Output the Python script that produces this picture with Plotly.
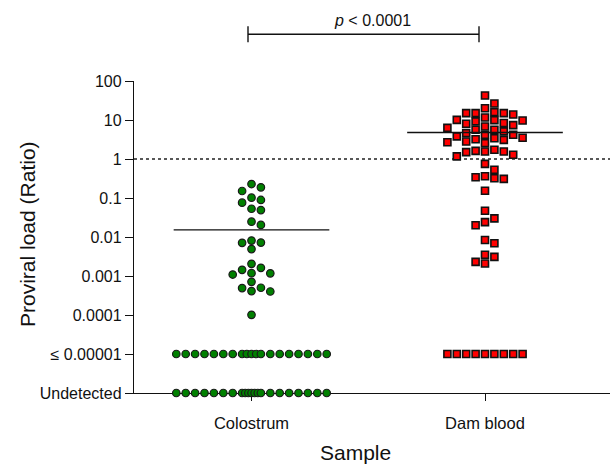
import numpy as np
import plotly.graph_objects as go

# ---------------- data ----------------
categories = ["Colostrum", "Dam blood"]

colostrum_detected = [0.228, 0.188, 0.151, 0.102, 0.089, 0.076, 0.053, 0.049,
                      0.0247, 0.0204, 0.0081, 0.0072, 0.0071, 0.0049,
                      0.00205, 0.00162, 0.00144, 0.00118, 0.00117, 0.00109,
                      0.00071, 0.00050, 0.00049, 0.00040, 0.00041, 0.000101]
colostrum_le_limit_n = 19
colostrum_undetected_n = 21

dam_detected = [42.4, 26.5, 20.1, 15.9, 15.0, 15.0, 15.0, 13.8, 11.6, 10.1, 9.9, 9.7,
                9.2, 8.4, 8.0, 7.4, 6.8, 6.3, 5.6, 5.6, 5.1, 4.6, 4.2, 4.2, 3.8,
                3.5, 3.4, 3.2, 3.1, 2.8, 2.7, 2.55, 1.72, 1.62, 1.56, 1.56, 1.50,
                1.28, 1.17, 0.75, 0.53, 0.36, 0.34, 0.32, 0.31,
                0.154, 0.047, 0.030, 0.024, 0.020, 0.0084, 0.0069, 0.0035, 0.0031,
                0.0023, 0.0021]
dam_le_limit_n = 9
dam_undetected_n = 0

le_limit_value = 1e-5
undetected_value = 1e-6
center_lines = [0.0152, 4.8]
threshold = 1.0

y_tickvals = [100, 10, 1, 0.1, 0.01, 0.001, 0.0001, 1e-5, 1e-6]
y_ticktext = ["100", "10", "1", "0.1", "0.01", "0.001", "0.0001", "\u2264 0.00001", "Undetected"]

# ---------------- layout geometry ----------------
W, H = 610, 464
ML, MR, MT, MB = 134, 0, 81, 71
plot_w = W - ML - MR
plot_h = H - MT - MB
y_range_log = [-6, 2]
px_per_decade = plot_h / (y_range_log[1] - y_range_log[0])
px_per_unit = 233.5
x_left = 1 - 117.5 / px_per_unit
x_right = x_left + plot_w / px_per_unit
slot_px = 9.4
slot = slot_px / px_per_unit
diam_px = 8.0


def swarm_offsets(vals):
    """slot-based beeswarm in pixel space"""
    vals = np.asarray(vals, dtype=float)
    ypx = np.log10(vals) * px_per_decade
    order = np.argsort(-vals, kind="stable")
    placed = {}
    out = np.zeros(len(vals))
    cands = [0]
    for k in range(1, 12):
        cands += [k, -k]
    for i in order:
        for k in cands:
            if all(abs(ypx[i] - yy) >= diam_px for yy in placed.get(k, [])):
                placed.setdefault(k, []).append(ypx[i])
                out[i] = k * slot
                break
    return out


def row_offsets(n, max_side=8):
    if n == 0:
        return np.array([])
    if n <= 2 * max_side + 1:
        return (np.arange(n) - (n - 1) / 2) * slot
    outer = max_side - 1
    c = n - 2 * outer
    left = -np.arange(max_side, 1, -1) * slot
    right = np.arange(2, max_side + 1) * slot
    mid = np.linspace(-slot, slot, c)
    return np.concatenate([left, mid, right])


def column(center, detected, n_le, n_und):
    xs = list(center + swarm_offsets(detected))
    ys = list(detected)
    xs += list(center + row_offsets(n_le))
    ys += [le_limit_value] * n_le
    xs += list(center + row_offsets(n_und))
    ys += [undetected_value] * n_und
    return xs, ys


cx, cy = column(1, colostrum_detected, colostrum_le_limit_n, colostrum_undetected_n)
dx, dy = column(2, dam_detected, dam_le_limit_n, dam_undetected_n)

fig = go.Figure()
fig.add_trace(go.Scatter(
    x=[x_left, x_right], y=[threshold, threshold], mode="lines",
    line=dict(color="#222", width=1.3, dash="dot"), hoverinfo="skip", cliponaxis=False))
fig.add_trace(go.Scatter(
    x=cx, y=cy, mode="markers", cliponaxis=False,
    marker=dict(symbol="circle", size=7.5, color="#008000",
                line=dict(color="#1a1a1a", width=1.2))))
fig.add_trace(go.Scatter(
    x=dx, y=dy, mode="markers", cliponaxis=False,
    marker=dict(symbol="square", size=7, color="#ff0000",
                line=dict(color="#111", width=1.6))))
for i, m in enumerate(center_lines):
    c = i + 1
    fig.add_trace(go.Scatter(
        x=[c - 1 / 3, c + 1 / 3], y=[m, m], mode="lines",
        line=dict(color="#111", width=1.4), hoverinfo="skip", cliponaxis=False))

font_family = "Arial, Liberation Sans, sans-serif"

fig.update_layout(
    width=W, height=H,
    margin=dict(l=ML, r=MR, t=MT, b=MB, pad=0),
    paper_bgcolor="white", plot_bgcolor="white",
    showlegend=False,
    font=dict(family=font_family, color="#111"),
    xaxis=dict(
        range=[x_left, x_right], tickvals=[1, 2], ticktext=categories,
        showline=True, linecolor="#111", linewidth=1.4, ticks="outside",
        ticklen=7, tickwidth=1.2, tickcolor="#111", showgrid=False, zeroline=False,
        tickfont=dict(size=16.5, color="#111"), ticklabelstandoff=8,
        layer="below traces"),
    yaxis=dict(
        type="log", range=y_range_log, tickvals=y_tickvals, ticktext=y_ticktext,
        showline=True, linecolor="#111", linewidth=1.4, ticks="outside",
        ticklen=8, tickwidth=1.2, tickcolor="#111", showgrid=False, zeroline=False,
        tickfont=dict(size=16, color="#111"), layer="below traces"),
)

# axis titles
fig.add_annotation(text="Sample", xref="paper", yref="paper",
                   x=(355 - ML) / plot_w, y=-(452 - (MT + plot_h)) / plot_h,
                   showarrow=False, xanchor="center", yanchor="middle",
                   font=dict(size=21, family=font_family, color="#111"))
fig.add_annotation(text="Proviral load (Ratio)", xref="paper", yref="paper",
                   x=-(ML - 27) / plot_w, y=0.5 + (237 - 234) / plot_h, textangle=-90,
                   showarrow=False, xanchor="center", yanchor="middle",
                   font=dict(size=21, family=font_family, color="#111"))

# significance bracket
by = 1 + (MT - 34.3) / plot_h
cap = 8 / plot_h
bx0, bx1 = 1 - 3.5 / px_per_unit, 2 - 6 / px_per_unit
fig.add_shape(type="line", xref="x", yref="paper", x0=bx0, x1=bx1, y0=by, y1=by,
              line=dict(color="#111", width=1.4))
for bx in (bx0, bx1):
    fig.add_shape(type="line", xref="x", yref="paper", x0=bx, x1=bx,
                  y0=by - cap, y1=by + cap, line=dict(color="#111", width=1.4))
fig.add_annotation(text="<i>p</i> &lt; 0.0001", xref="x", yref="paper",
                   x=1 + (372 - 251.5) / px_per_unit, y=1 + (MT - 20) / plot_h,
                   showarrow=False, xanchor="center", yanchor="middle",
                   font=dict(size=16, family=font_family, color="#111"))

fig.write_html("out.html")
